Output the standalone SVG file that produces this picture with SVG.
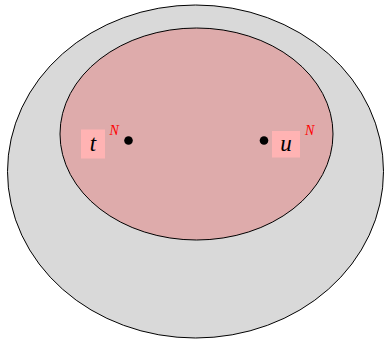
<svg xmlns="http://www.w3.org/2000/svg" width="384" height="339" viewBox="0 0 384 339">
<style>
.reg{stroke:#000;stroke-width:1}
.lbl{font-family:"Liberation Serif",serif;font-style:italic;font-size:23px;fill:#000;text-anchor:middle}
.sup{font-family:"Liberation Serif",serif;font-style:italic;font-size:14px;fill:#ff0000}
.box{fill:#ffb3b3}
</style>
<rect width="384" height="339" fill="#fff"/>
<g id="outer"><ellipse class="reg" cx="195.5" cy="171.5" rx="188" ry="166.5" fill="#d9d9d9"/></g>
<g id="inner"><ellipse class="reg" cx="196.5" cy="134" rx="136.5" ry="106" fill="#deabab"/></g>
<g id="connectors"></g>
<g id="node-t">
<rect class="box" x="81" y="129.5" width="24" height="29"/>
<text class="lbl" x="93" y="151">t</text>
<text class="sup" x="109.5" y="135">N</text>
<circle cx="128.5" cy="140.5" r="4.3" fill="#000"/>
</g>
<g id="node-u">
<rect class="box" x="272" y="131" width="28" height="26.5"/>
<text class="lbl" x="286" y="151">u</text>
<text class="sup" x="305" y="135">N</text>
<circle cx="264" cy="140.5" r="4.3" fill="#000"/>
</g>
</svg>
